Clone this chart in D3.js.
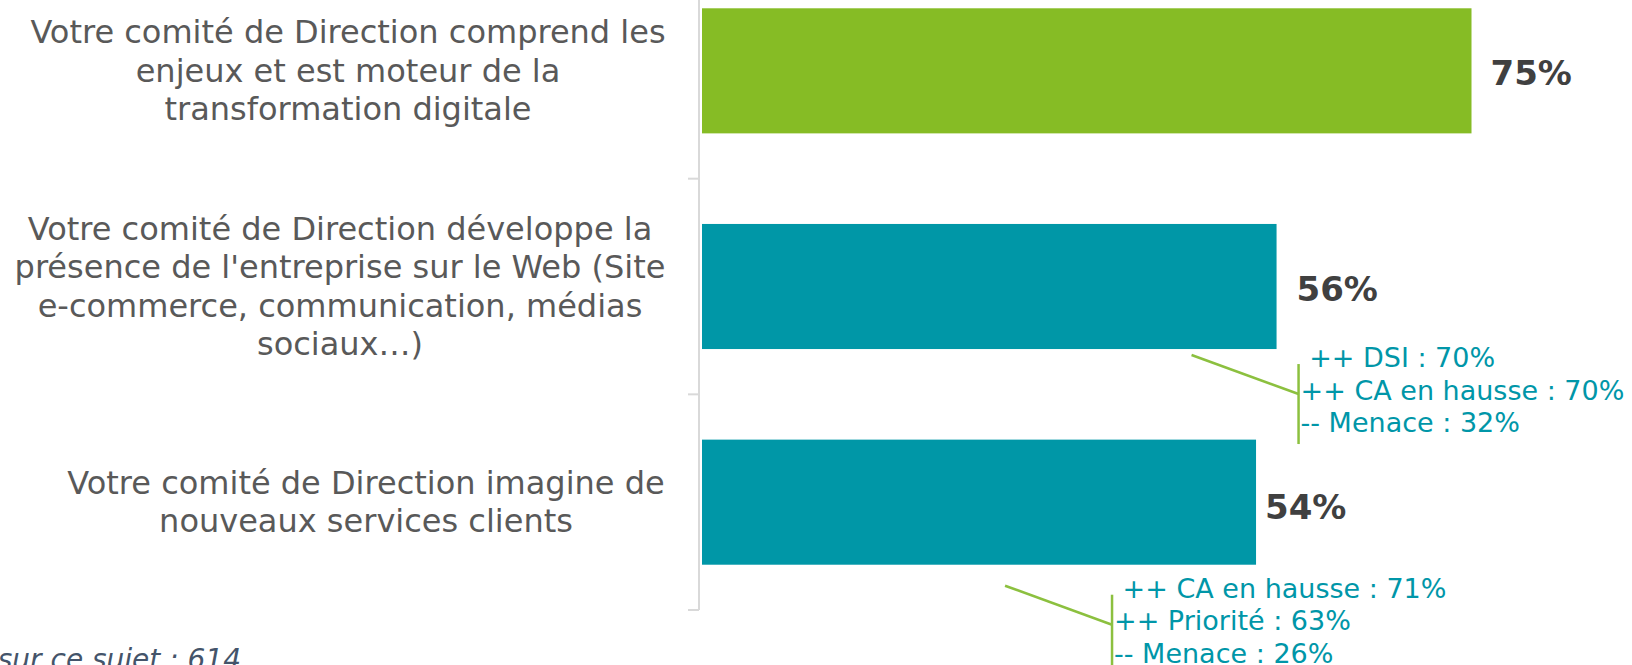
<!DOCTYPE html>
<html>
<head>
<meta charset="utf-8">
<script src="https://cdn.jsdelivr.net/npm/d3@7"></script>
<style>
  html, body { margin: 0; padding: 0; background: #fff; }
  svg { display: block; }
</style>
</head>
<body>
<svg id="chart"></svg>
<script>
"use strict"

/****** DATA ******/
const categories = [
  "Votre comité de Direction comprend les\nenjeux et est moteur de la\ntransformation digitale",
  "Votre comité de Direction développe la\nprésence de l'entreprise sur le Web (Site\ne-commerce, communication, médias\nsociaux…)",
  "Votre comité de Direction imagine de\nnouveaux services clients",
]
const values = [75, 56, 54]
const barColors = ["#86bc25", "#0097a7", "#0097a7"]
const callouts = [
  null,
  [" ++ DSI : 70%", "++ CA en hausse : 70%", "-- Menace : 32%"],
  [" ++ CA en hausse : 71%", "++ Priorité : 63%", "-- Menace : 26%"],
]
const footnote = "sur ce sujet : 614"

/****** LAYOUT ******/
const W = 1632, H = 665
const axisX = 699
// where each callout hooks onto its bar (offset from bar end / bar bottom)
const calloutHook = [null, {dx: -85, dy: 6}, {dx: -251, dy: 21}]
const valueGap = [19, 20, 9]
const labelCenter = [348, 340, 366]

const svg = d3.select('#chart').attr('width', W).attr('height', H)
svg.append('rect').attr('width', W).attr('height', H).attr('fill', '#fff')

const x = d3.scaleLinear().domain([0, 100]).range([axisX + 3, axisX + 3 + 1026])
const y = d3.scaleBand().domain(categories).range([-37, 610]).paddingInner(0.42).paddingOuter(0.21)

// axis line with ticks on category boundaries
const g = svg.append('g')
const bounds = d3.range(categories.length + 1).map(k => y.range()[0] + k * y.step())
g.append('line')
  .attr('x1', axisX).attr('x2', axisX)
  .attr('y1', bounds[0]).attr('y2', bounds[bounds.length - 1])
  .attr('stroke', '#d9d9d9').attr('stroke-width', 2)
g.selectAll('line.tick').data(bounds).enter().append('line')
  .attr('class', 'tick')
  .attr('x1', axisX - 11).attr('x2', axisX)
  .attr('y1', d => d).attr('y2', d => d)
  .attr('stroke', '#d9d9d9').attr('stroke-width', 2)

// bars
svg.selectAll('rect.bar').data(categories).enter().append('rect')
  .attr('class', 'bar')
  .attr('x', x(0))
  .attr('y', d => y(d))
  .attr('width', (d, i) => x(values[i]) - x(0))
  .attr('height', y.bandwidth())
  .attr('fill', (d, i) => barColors[i])

// value labels
svg.selectAll('text.val').data(categories).enter().append('text')
  .attr('class', 'val')
  .attr('x', (d, i) => x(values[i]) + valueGap[i])
  .attr('y', (d, i) => y(d) + y.bandwidth() / 2 + (i === 2 ? 17 : 14))
  .attr('font-family', 'DejaVu Sans, Verdana, sans-serif')
  .attr('font-weight', 'bold')
  .attr('font-size', 34)
  .attr('fill', '#404040')
  .text((d, i) => values[i] + '%')

// category labels, centred on each band
const lineH = 38.5
svg.selectAll('text.cat').data(categories).enter().append('text')
  .attr('class', 'cat')
  .attr('text-anchor', 'middle')
  .attr('font-family', 'DejaVu Sans, Verdana, sans-serif')
  .attr('font-size', 32)
  .attr('fill', '#595959')
  .each(function(d, i) {
    const lines = d.split('\n')
    const cy = y(d) + y.bandwidth() / 2
    const first = cy - (lines.length - 1) * lineH / 2 + 11
    d3.select(this).selectAll('tspan').data(lines).enter().append('tspan')
      .attr('x', labelCenter[i])
      .attr('y', (l, j) => first + j * lineH)
      .text(l => l)
  })

// callouts
categories.forEach((c, i) => {
  if (!callouts[i]) return
  const ax = x(values[i]) + calloutHook[i].dx
  const ay = y(c) + y.bandwidth() + calloutHook[i].dy
  const bx = ax + 107
  const top = ay + 9
  const cg = svg.append('g')
  cg.append('line')
    .attr('x1', ax).attr('y1', ay).attr('x2', bx).attr('y2', top + 30)
    .attr('stroke', '#8cc03f').attr('stroke-width', 2.5)
  cg.append('line')
    .attr('x1', bx).attr('y1', top).attr('x2', bx).attr('y2', top + 80)
    .attr('stroke', '#8cc03f').attr('stroke-width', 2.5)
  cg.selectAll('text').data(callouts[i]).enter().append('text')
    .attr('x', bx + 2)
    .attr('y', (t, j) => top + 3 + j * 32.5)
    .attr('font-family', 'DejaVu Sans, Verdana, sans-serif')
    .attr('font-size', 27)
    .attr('fill', '#0096a8')
    .style('white-space', 'pre')
    .text(t => t)
})

// footnote, cut by the bottom edge as in the original
svg.append('text')
  .attr('x', 241).attr('y', 669)
  .attr('text-anchor', 'end')
  .attr('font-family', 'DejaVu Sans, Verdana, sans-serif')
  .attr('font-style', 'italic')
  .attr('font-size', 28)
  .attr('fill', '#44546a')
  .text(footnote)
</script>
</body>
</html>
